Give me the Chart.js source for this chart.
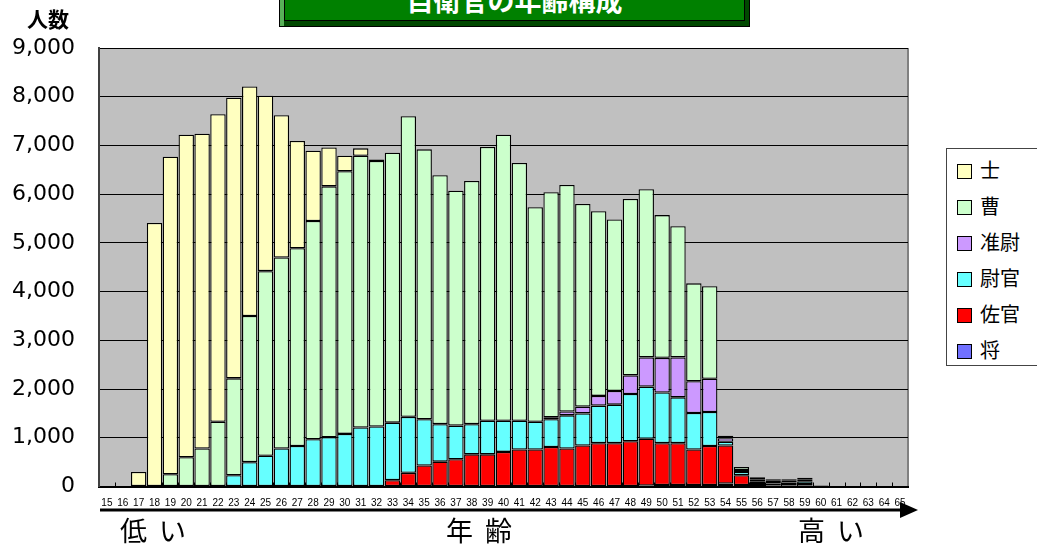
<!DOCTYPE html>
<html>
<head>
<meta charset="utf-8">
<script src="https://cdn.jsdelivr.net/npm/chart.js@4"></script>
<style>
  body { margin: 0; background: #fff; overflow: hidden; }
  #wrap { position: relative; width: 1037px; height: 550px; }
  #chart { position: absolute; left: 0; top: 0; }
  .jp { font-family: "Noto Sans CJK JP", sans-serif; position: absolute; color: #000; white-space: nowrap; }
  #title {
    position: absolute; left: 279px; top: -6px; width: 469px; height: 31px;
    background: #008000; border: 1px solid #000;
    box-shadow: inset 4px 0 0 #58b058, inset -4px -5px 0 #004800, inset 5px 0 0 #000, inset -5px -6px 0 #000;
    overflow: hidden;
  }
  #title span { position: absolute; left: 0; right: 0; top: -9px; text-align: center; color: #fff; font-weight: bold; font-size: 27px; line-height: 27px; }
  #legend { position: absolute; left: 946px; top: 148px; width: 110px; height: 216px; border: 1px solid #444; background: #fff; }
  .row { position: absolute; left: 10px; height: 24px; }
  .sw { position: absolute; left: 0; top: 5px; width: 13px; height: 13px; border: 1px solid #000; }
  .row span { position: absolute; left: 23px; top: -3px; font-size: 20px; line-height: 28px; }
  .axisword { top: 512px; font-size: 27px; letter-spacing: 12px; line-height: 36px; }
</style>
</head>
<body>
<div id="wrap">
  <canvas id="chart" width="1037" height="550"></canvas>
  <div id="title" class="jp"><span>自衛官の年齢構成</span></div>
  <div class="jp" style="left:27px;top:4px;font-size:21px;font-weight:bold;line-height:28px;">人数</div>
  <div id="legend" class="jp"></div>
  <svg style="position:absolute;left:0;top:0" width="1037" height="550">
    <line x1="100" y1="510" x2="902" y2="510" stroke="#000" stroke-width="3"/>
    <polygon points="900,502 918,510 900,518" fill="#000"/>
  </svg>
  <div class="jp axisword" style="left:120px;">低い</div>
  <div class="jp axisword" style="left:446px;">年齢</div>
  <div class="jp axisword" style="left:798px;">高い</div>
</div>
<script>
// ages 15..65
const ages = ['15','16','17','18','19','20','21','22','23','24','25','26','27','28','29','30','31','32','33','34','35','36','37','38','39','40','41','42','43','44','45','46','47','48','49','50','51','52','53','54','55','56','57','58','59','60','61','62','63','64','65'];

// people per rank and age
const shi = [0,0,300,5410,6520,6620,6460,6310,5760,4710,3600,2920,2200,1440,800,320,150,30,
  0,0,0,0,0,0,0,0,0,0,0,0,0,0,0,0,0,0,0,0,0,0,0,0,0,0,0,0,0,0,0,0,0];
const so = [0,0,0,0,250,600,780,1330,1990,3000,3790,3920,4060,4480,5150,5390,5580,5450,
  5540,6170,5540,5110,4820,4990,5620,5870,5290,4400,4620,4650,4160,3790,3520,3620,3450,2930,2690,2010,1900,
  50,60,50,30,20,30,20,10,0,0,0,0];
const junI = [0,0,0,0,0,0,0,0,0,0,0,0,0,0,0,0,0,0,0,0,0,0,0,0,0,0,0,0,
  40,80,140,200,280,380,600,710,820,650,680,70,40,30,30,50,40,0,0,0,0,0,0];
const ikan = [0,0,0,0,0,0,0,0,230,500,630,780,830,970,1010,1080,1210,1230,
  1180,1150,950,770,690,620,690,640,590,570,570,680,660,770,790,970,1070,1040,940,750,700,
  80,70,20,30,30,60,0,0,0,0,0,0];
const sakan = [0,0,0,0,0,0,0,0,0,0,0,0,0,0,0,0,0,0,
  130,280,430,510,560,660,660,710,760,760,810,780,840,890,890,930,960,860,860,730,800,
  780,200,40,40,30,30,0,0,0,0,0,0];
const sho = [0,0,0,0,0,0,0,0,0,0,0,0,0,0,0,0,0,0,0,0,0,0,0,0,0,0,0,0,0,0,0,0,0,0,
  20,30,30,30,30,60,30,50,20,20,20,0,0,0,0,0,0];

const names = ['将', '佐官', '尉官', '准尉', '曹', '士'];
const colors = ['#7070FF', '#FF0000', '#66FFFF', '#CC99FF', '#CCFFCC', '#FFFFC0'];
const series = [sho, sakan, ikan, junI, so, shi];

// legend, top to bottom
const legend = document.getElementById('legend');
for (let i = names.length - 1; i >= 0; i--) {
  const k = names.length - 1 - i;
  const row = document.createElement('div');
  row.className = 'row';
  row.style.top = (10 + k * 36) + 'px';
  row.innerHTML = '<div class="sw" style="background:' + colors[i] + '"></div><span>' + names[i] + '</span>';
  legend.appendChild(row);
}

const plotBg = {
  id: 'plotBg',
  beforeDraw(chart) {
    const { ctx, chartArea: a } = chart;
    ctx.save();
    ctx.fillStyle = '#C0C0C0';
    ctx.fillRect(a.left, a.top, a.right - a.left, a.bottom - a.top);
    ctx.strokeStyle = '#808080';
    ctx.lineWidth = 2;
    ctx.beginPath();
    ctx.moveTo(a.right, a.top);
    ctx.lineTo(a.right, a.bottom);
    ctx.stroke();
    ctx.restore();
  },
  beforeDatasetsDraw(chart) {
    // small inner tick marks at category boundaries
    const { ctx, chartArea: a, scales } = chart;
    const x = scales.x;
    ctx.save();
    ctx.strokeStyle = '#000';
    ctx.lineWidth = 1;
    ctx.beginPath();
    for (let i = 0; i < ages.length - 1; i++) {
      const px = Math.round((x.getPixelForValue(i) + x.getPixelForValue(i + 1)) / 2) + 0.5;
      ctx.moveTo(px, a.bottom);
      ctx.lineTo(px, a.bottom - 4);
    }
    ctx.stroke();
    ctx.restore();
  }
};

new Chart(document.getElementById('chart'), {
  type: 'bar',
  data: {
    labels: ages,
    datasets: series.map((d, i) => ({
      label: names[i],
      data: d.map(v => v === 0 ? null : v),
      backgroundColor: colors[i],
      borderColor: '#000',
      borderWidth: 1.3,
      borderSkipped: false,
      barPercentage: 0.97,
      categoryPercentage: 1
    }))
  },
  options: {
    responsive: false,
    animation: false,
    layout: { padding: { top: 48, right: 129, left: 0, bottom: 0 } },
    plugins: { legend: { display: false }, tooltip: { enabled: false } },
    scales: {
      x: {
        stacked: true,
        grid: { display: false, drawTicks: false },
        border: { color: '#000', width: 2 },
        ticks: { autoSkip: false, maxRotation: 0, padding: 11, color: '#000', font: { family: 'Liberation Sans', size: 10 } },
        afterFit(s) { s.height = 63.5; }
      },
      y: {
        stacked: true,
        min: 0,
        max: 9000,
        grid: { color: '#000', lineWidth: 1, drawTicks: false },
        border: { color: '#404040', width: 2 },
        ticks: { stepSize: 1000, padding: 24, color: '#000', font: { family: 'DejaVu Sans', size: 22 } },
        afterFit(s) { s.width = 99; }
      }
    }
  },
  plugins: [plotBg]
});
</script>
</body>
</html>
